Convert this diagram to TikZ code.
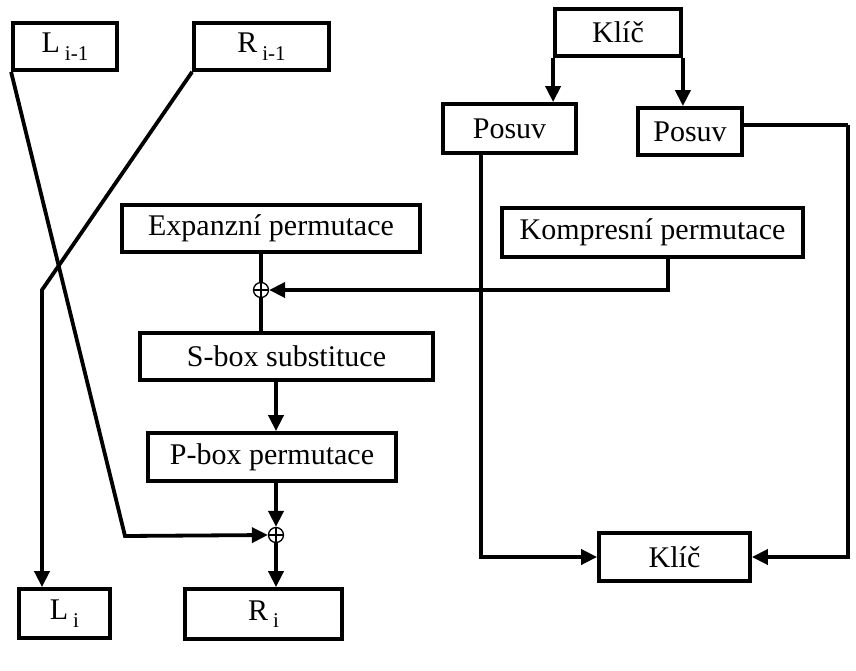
\documentclass[tikz,border=0pt]{standalone}
\usepackage{fontspec}
\setmainfont{Liberation Serif}
\usetikzlibrary{arrows.meta}

\newcommand{\subidx}[1]{\,\raisebox{-0.25em}{\fontsize{21}{21}\selectfont #1}}

\tikzset{
  blk/.style={draw, line width=3.8pt, rectangle, inner sep=0pt,
              font=\fontsize{30}{34}\selectfont},
  xorop/.style={draw, circle, line width=1.3pt, minimum size=15pt, inner sep=0pt,
                path picture={
                  \draw[line width=1.3pt]
                    (path picture bounding box.north) -- (path picture bounding box.south)
                    (path picture bounding box.west) -- (path picture bounding box.east);}},
  wire/.style={line width=3.8pt},
  flow/.style={wire, -{Triangle[length=16pt,width=15pt]}},
}

\begin{document}
\begin{tikzpicture}[x=1pt, y=-1pt, line join=miter]
\useasboundingbox (0,0) rectangle (856,671);

% round input halves
\node[blk, minimum width=104pt, minimum height=47pt] (Lprev) at (65,46.5) {L\subidx{i-1}};
\node[blk, minimum width=135pt, minimum height=47pt] (Rprev) at (261.5,46.5) {R\subidx{i-1}};

% key schedule
\node[blk, minimum width=126pt, minimum height=47pt] (Key)  at (618,32.5) {Klíč};
\node[blk, minimum width=133pt, minimum height=49pt] (PosA) at (509.5,128.5) {Posuv};
\node[blk, minimum width=104pt, minimum height=47pt] (PosB) at (690,131.5) {Posuv};
\node[blk, minimum width=301pt, minimum height=49pt] (Komp) at (652.5,232.5) {Kompresní permutace};
\node[blk, minimum width=151pt, minimum height=48pt] (Key2) at (674.5,557) {Klíč};

% round function
\node[blk, minimum width=298pt, minimum height=47pt] (Exp)  at (271,228.5) {Expanzní permutace};
\node[xorop] (X1) at (261,290) {};
\node[blk, minimum width=293pt, minimum height=47pt] (Sbox) at (286.5,356.5) {S-box substituce};
\node[blk, minimum width=248pt, minimum height=48pt] (Pbox) at (272,457) {P-box permutace};
\node[xorop] (X2) at (276,535) {};

% round output halves
\node[blk, minimum width=91pt,  minimum height=49pt] (Li) at (64.5,613.5) {L\subidx{i}};
\node[blk, minimum width=157pt, minimum height=50pt] (Ri) at (263.5,614) {R\subidx{i}};

% bends and routing points
\coordinate (bendR) at (42,290);
\coordinate (bendL) at (125,536);
\coordinate (rail)  at (848,125);

% key schedule connectors
\draw[flow] (Key.south west) -- (Key.south west |- PosA.north);
\draw[flow] (Key.south east) -- (Key.south east |- PosB.north);
\draw[flow] ([xshift=-28.5pt]PosA.south) |- (Key2.west);
\draw[wire] (PosB.east |- rail) -- (rail);
\draw[flow] (rail) |- (Key2.east);
\draw[flow] ([xshift=15.5pt]Komp.south) |- (X1.east);

% round function connectors
\draw[wire] (X1.north) -- (X1.north |- Exp.south);
\draw[wire] (X1.south) -- (X1.south |- Sbox.north);
\draw[flow] (Sbox.south -| X2) -- (Pbox.north -| X2);
\draw[flow] (Pbox.south -| X2) -- (X2.north);
\draw[flow] (X2.south) -- (X2.south |- Ri.north);

% crossing of the halves
\draw[flow] (Lprev.south west) -- (bendL) -- (X2.west);
\draw[flow] (Rprev.south west) -- (bendR) -- (bendR |- Li.north);
\end{tikzpicture}
\end{document}
